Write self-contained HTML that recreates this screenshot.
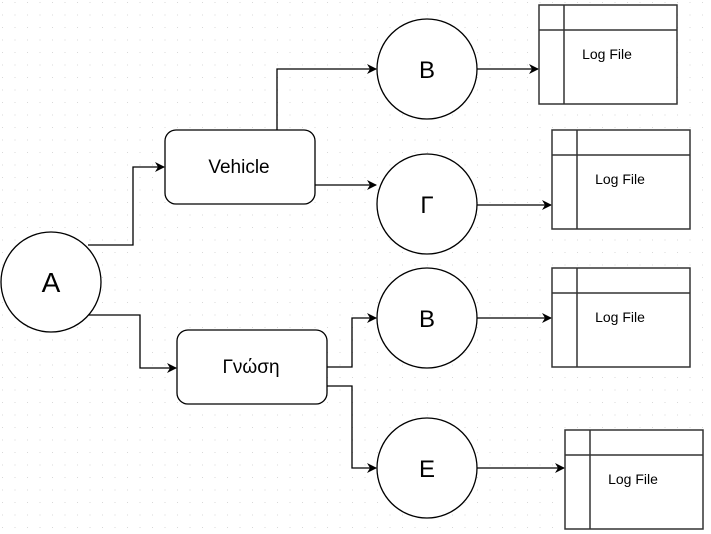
<!DOCTYPE html>
<html><head><meta charset="utf-8"><style>html,body{margin:0;padding:0;background:#fff}svg{display:block}</style></head><body>
<svg width="711" height="534" xmlns="http://www.w3.org/2000/svg" font-family="Liberation Sans, sans-serif">
<defs>
<pattern id="g" width="12.5" height="12.5" patternUnits="userSpaceOnUse" x="2" y="2"><rect x="0" y="0" width="1" height="1" fill="#d8d8d8"/></pattern>
<marker id="a" markerWidth="10" markerHeight="10" refX="9" refY="5" orient="auto" markerUnits="userSpaceOnUse"><path d="M0,0 L10,5 L0,10 L3,5 Z" fill="#000"/></marker>
</defs>
<rect width="711" height="534" fill="url(#g)"/>
<g fill="none" stroke="#000" stroke-width="1.3">
<path d="M88,245 H133 V167 H164" marker-end="url(#a)"/>
<path d="M88,315 H140 V368 H176" marker-end="url(#a)"/>
<path d="M277,130 V69 H376" marker-end="url(#a)"/>
<path d="M315,185 H376" marker-end="url(#a)"/>
<path d="M327,367 H352 V318 H376" marker-end="url(#a)"/>
<path d="M327,386 H352 V468 H376" marker-end="url(#a)"/>
<path d="M477,69 H538" marker-end="url(#a)"/>
<path d="M477,205 H551" marker-end="url(#a)"/>
<path d="M477,318 H551" marker-end="url(#a)"/>
<path d="M477,468 H564" marker-end="url(#a)"/>
</g>
<g fill="#fff" stroke="#000" stroke-width="1.3">
<circle cx="51" cy="282" r="50"/>
<circle cx="427" cy="69" r="50"/>
<circle cx="427" cy="204" r="50"/>
<circle cx="427" cy="318" r="50"/>
<circle cx="427" cy="468" r="50"/>
<rect x="165" y="130" width="150" height="74" rx="11"/>
<rect x="177" y="330" width="150" height="74" rx="11"/>
</g>
<g fill="#fff" stroke="#333" stroke-width="1.5">
<rect x="539" y="5" width="138" height="99"/><path d="M564,5 V104 M539,30 H677"/>
<rect x="552" y="130" width="138" height="99"/><path d="M577,130 V229 M552,155 H690"/>
<rect x="552" y="268" width="138" height="99"/><path d="M577,268 V367 M552,293 H690"/>
<rect x="565" y="430" width="138" height="99"/><path d="M590,430 V529 M565,455 H703"/>
</g>
<g fill="#000" text-anchor="middle">
<text x="51" y="292" font-size="28">A</text>
<text x="427" y="78" font-size="24">B</text>
<text x="427" y="213" font-size="24">Γ</text>
<text x="427" y="327" font-size="24">B</text>
<text x="427" y="477" font-size="24">E</text>
<text x="239" y="173" font-size="19">Vehicle</text>
<text x="251" y="373" font-size="19">Γνώση</text>
<text x="607" y="59" font-size="14">Log File</text>
<text x="620" y="184" font-size="14">Log File</text>
<text x="620" y="322" font-size="14">Log File</text>
<text x="633" y="484" font-size="14">Log File</text>
</g>
</svg>
</body></html>
